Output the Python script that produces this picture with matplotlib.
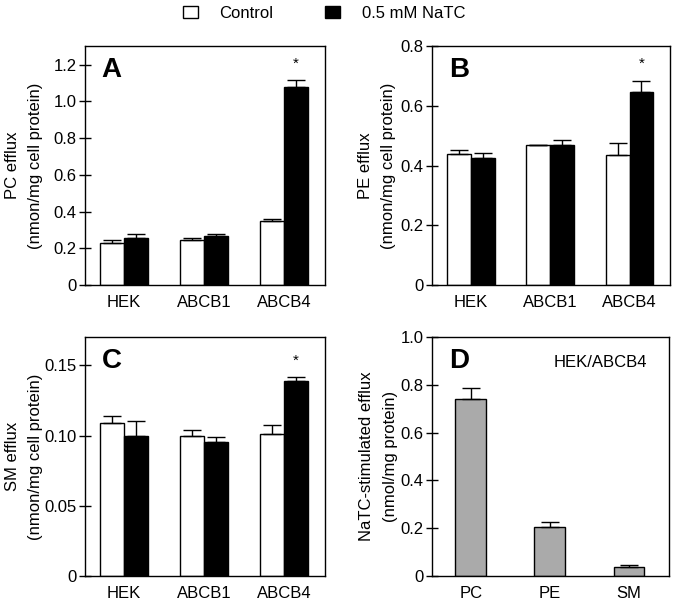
import matplotlib

matplotlib.use("Agg")
import matplotlib.pyplot as plt
from matplotlib.patches import Patch
import numpy as np

plt.rcParams["font.family"] = ["Liberation Sans", "DejaVu Sans"]
plt.rcParams["font.size"] = 12

groups = ["HEK", "ABCB1", "ABCB4"]
series_names = ["Control", "0.5 mM NaTC"]

# panel A: PC efflux
pc_ctrl = [0.231, 0.244, 0.348]
pc_ctrl_err = [0.012, 0.010, 0.013]
pc_natc = [0.256, 0.265, 1.079]
pc_natc_err = [0.024, 0.015, 0.035]

# panel B: PE efflux
pe_ctrl = [0.440, 0.468, 0.435]
pe_ctrl_err = [0.013, 0.0, 0.040]
pe_natc = [0.426, 0.470, 0.648]
pe_natc_err = [0.017, 0.017, 0.037]

# panel C: SM efflux
sm_ctrl = [0.109, 0.100, 0.101]
sm_ctrl_err = [0.0047, 0.0037, 0.0068]
sm_natc = [0.100, 0.0952, 0.1389]
sm_natc_err = [0.010, 0.0035, 0.0026]

# panel D: NaTC-stimulated efflux in HEK/ABCB4
lipids = ["PC", "PE", "SM"]
stim = [0.743, 0.207, 0.036]
stim_err = [0.046, 0.018, 0.010]

# significant groups (asterisk over NaTC bar)
signif = ["ABCB4"]


def ticks_for(step, top, fmt):
    vals = np.arange(0, top + step / 2, step)
    labels = ["0"] + [fmt.format(v) for v in vals[1:]]
    return vals, labels


def style_axis(ax, ymax, yticks, yticklabels, ylabel, letter, labelx):
    ax.set_ylim(0, ymax)
    ax.set_yticks(yticks)
    ax.set_yticklabels(yticklabels)
    ax.tick_params(axis="y", direction="inout", length=8, width=1, pad=2)
    ax.tick_params(axis="x", length=0, pad=7)
    for s in ax.spines.values():
        s.set_linewidth(1)
    ax.set_ylabel(ylabel, linespacing=1.7)
    ax.yaxis.set_label_coords(labelx, 0.5)
    ax.text(0.07, 0.955, letter, transform=ax.transAxes, ha="left", va="top",
            fontsize=20, fontweight="bold")


def grouped(ax, ctrl, ctrl_err, natc, natc_err, ymax, yticks, yticklabels,
            ylabel, letter, labelx):
    x = np.arange(len(groups))
    w = 0.3
    ekw = dict(lw=1, capthick=1, ecolor="black")
    ax.bar(x - w / 2, ctrl, w, color="white", edgecolor="black", lw=1,
           yerr=[np.zeros(len(ctrl)), ctrl_err], capsize=6.5, error_kw=ekw)
    ax.bar(x + w / 2, natc, w, color="black", edgecolor="black", lw=1,
           yerr=[np.zeros(len(natc)), natc_err], capsize=6.5, error_kw=ekw)
    for g in signif:
        i = groups.index(g)
        ax.text(x[i] + w / 2, natc[i] + natc_err[i] + 0.07 * ymax, "*",
                ha="center", va="center", fontsize=11)
    ax.set_xlim(-0.49, len(groups) - 0.49)
    ax.set_xticks(x)
    ax.set_xticklabels(groups)
    style_axis(ax, ymax, yticks, yticklabels, ylabel, letter, labelx)


fig = plt.figure(figsize=(6.74, 6.0), dpi=100)
axA = fig.add_axes([0.1261, 0.525, 0.356, 0.398])
axB = fig.add_axes([0.641, 0.525, 0.353, 0.398])
axC = fig.add_axes([0.1261, 0.040, 0.356, 0.398])
axD = fig.add_axes([0.641, 0.040, 0.352, 0.398])

t, l = ticks_for(0.2, 1.2, "{:.1f}")
grouped(axA, pc_ctrl, pc_ctrl_err, pc_natc, pc_natc_err, 1.3, t, l,
        "PC efflux\n(nmon/mg cell protein)", "A", -0.175)
t, l = ticks_for(0.2, 0.8, "{:.1f}")
grouped(axB, pe_ctrl, pe_ctrl_err, pe_natc, pe_natc_err, 0.8, t, l,
        "PE efflux\n(nmon/mg cell protein)", "B", -0.15)
t, l = ticks_for(0.05, 0.15, "{:.2f}")
grouped(axC, sm_ctrl, sm_ctrl_err, sm_natc, sm_natc_err, 0.17, t, l,
        "SM efflux\n(nmon/mg cell protein)", "C", -0.175)

xd = np.arange(len(lipids))
axD.bar(xd, stim, 0.39, color="#aaaaaa", edgecolor="black", lw=1,
        yerr=[np.zeros(len(stim)), stim_err], capsize=6.5,
        error_kw=dict(lw=1, capthick=1, ecolor="black"))
axD.set_xlim(-0.49, len(lipids) - 0.49)
axD.set_xticks(xd)
axD.set_xticklabels(lipids)
t, l = ticks_for(0.2, 1.0, "{:.1f}")
style_axis(axD, 1.0, t, l, "NaTC-stimulated efflux\n(nmol/mg protein)", "D",
           -0.145)
axD.text(0.907, 0.895, "HEK/ABCB4", transform=axD.transAxes, ha="right",
         va="center", fontsize=12)

handles = [Patch(facecolor="white", edgecolor="black", lw=1),
           Patch(facecolor="black", edgecolor="black", lw=1)]
fig.legend(handles, series_names, loc="center", bbox_to_anchor=(0.481, 0.978),
           ncol=2, frameon=False, handlelength=0.9, handleheight=0.8,
           handletextpad=1.3, columnspacing=3.1, fontsize=12)

fig.savefig("out.png", dpi=100)
